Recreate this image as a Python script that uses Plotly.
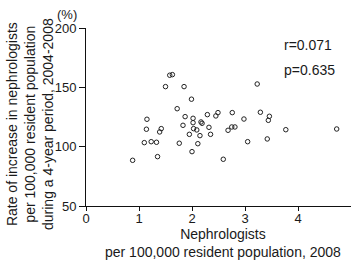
import plotly.graph_objects as go

# Nephrologists per 100,000 resident population, 2008
x_vals = [1.58, 1.63, 1.50, 1.85, 1.99, 3.23, 1.72, 1.15, 1.87, 2.02, 2.02, 2.29, 2.49, 2.45,
          2.76, 2.98, 3.29, 3.46, 3.44, 1.83, 2.17, 2.19, 1.14, 1.42, 1.39, 2.32, 2.03, 2.09,
          1.95, 2.15, 2.35, 2.75, 2.81, 2.68, 3.77, 4.73, 1.10, 1.23, 1.33, 1.76, 2.11, 3.05,
          3.42, 2.00, 1.35, 0.88, 2.59]
# Rate of increase (%) 2004-2008
y_vals = [160.2, 160.7, 150.6, 150.6, 140.0, 152.8, 132.0, 123.1, 125.3, 123.9, 120.2, 127.0,
          128.7, 125.9, 128.7, 123.3, 129.0, 125.6, 122.2, 118.0, 120.8, 119.7, 114.7, 115.2,
          112.4, 116.3, 115.2, 114.1, 110.4, 109.3, 110.4, 116.6, 116.6, 113.8, 114.3, 114.9,
          103.4, 104.2, 103.7, 102.9, 102.5, 104.2, 106.5, 95.8, 91.6, 88.5, 89.4]

x_ticks = [0, 1, 2, 3, 4, 5]
y_ticks = [50, 100, 150, 200]

FONT = "Liberation Sans, Arial, sans-serif"
TXT = "#1a1a1a"

fig = go.Figure()
fig.add_trace(go.Scatter(
    x=x_vals, y=y_vals, mode="markers",
    marker=dict(symbol="circle-open", size=4.5, color="#222222", line=dict(width=1, color="#222222")),
    hoverinfo="skip", showlegend=False,
))

fig.update_layout(
    width=351, height=260,
    margin=dict(l=86, r=0, t=28, b=54),
    paper_bgcolor="white", plot_bgcolor="white",
    font=dict(family=FONT, size=13, color=TXT),
    xaxis=dict(range=[0, 5], tickvals=x_ticks, showline=True, linecolor="#111", linewidth=1,
               ticks="outside", ticklen=4, tickcolor="#111", showgrid=False, zeroline=False,
               tickfont=dict(size=13), ticklabelstandoff=-4),
    yaxis=dict(range=[50, 200], tickvals=y_ticks, showline=True, linecolor="#111", linewidth=1,
               ticks="outside", ticklen=6, tickcolor="#111", showgrid=False, zeroline=False,
               tickfont=dict(size=13)),
)

ann = dict(xref="paper", yref="paper", showarrow=False, font=dict(family=FONT, color=TXT))
plot_w = 351 - 86
plot_h = 260 - 28 - 54

def px2paper_x(px):
    return (px - 86) / plot_w

def py2paper_y(py):
    return (260 - 54 - py) / plot_h

fig.add_annotation(**ann, x=px2paper_x(67), y=py2paper_y(15), text="(%)", font_size=13,
                   xanchor="center", yanchor="middle")
fig.add_annotation(**ann, x=px2paper_x(30), y=py2paper_y(124),
                   text="Rate of increase in nephrologists<br>per 100,000 resident population<br>during a 4-year period, 2004-2008",
                   textangle=-90, font_size=14, xanchor="center", yanchor="middle")
fig.add_annotation(**ann, x=px2paper_x(223), y=py2paper_y(243),
                   text="Nephrologists<br>per 100,000 resident population, 2008",
                   font_size=14, xanchor="center", yanchor="middle")
fig.add_annotation(**ann, x=px2paper_x(282), y=py2paper_y(45), text="r=0.071", font_size=14,
                   xanchor="left", yanchor="middle")
fig.add_annotation(**ann, x=px2paper_x(282), y=py2paper_y(70), text="p=0.635", font_size=14,
                   xanchor="left", yanchor="middle")

fig.write_html("out.html")
